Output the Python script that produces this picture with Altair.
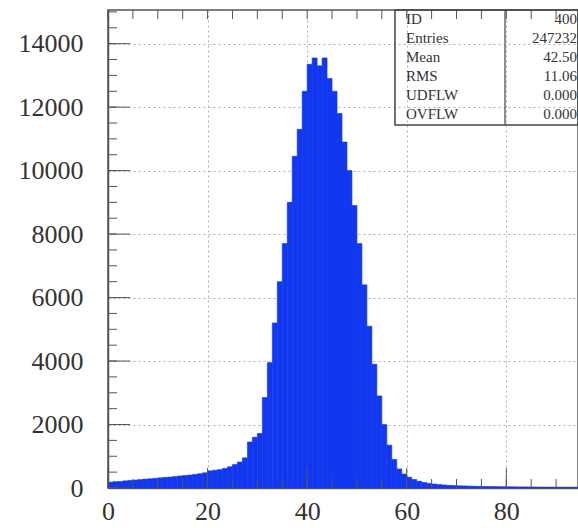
import altair as alt
import pandas as pd

# ---- data (bins of width 1, starting at 0) ----
bin_start = list(range(0, 95))
counts = [185, 200, 205, 225, 240, 250, 265, 280, 290, 305,
          320, 335, 345, 360, 380, 395, 410, 430, 450, 480,
          540, 560, 580, 620, 670, 740, 820, 950, 1450, 1600,
          1720, 2850, 3950, 5200, 6500, 7700, 9000, 10450, 11300, 12500,
          13350, 13550, 13300, 13550, 12900, 12500, 11800, 10900, 10000, 8900,
          7700, 6400, 5100, 3900, 2900, 2000, 1350, 900, 600, 440,
          340, 270, 215, 175, 145, 125, 110, 95, 85, 78,
          70, 66, 60, 56, 52, 50, 47, 45, 42, 40,
          39, 37, 35, 34, 33, 31, 30, 29, 28, 27,
          26, 25, 25, 24, 23]

x_labels = [0, 20, 40, 60, 80]
y_labels = [0, 2000, 4000, 6000, 8000, 10000, 12000, 14000]

stat_names = ["ID", "Entries", "Mean", "RMS", "UDFLW", "OVFLW"]
stat_values = ["400", "247232", "42.50", "11.06", "0.000", "0.000"]

X_MAX = 94.4
Y_MAX = 15060
W, H = 470, 478
FONT = "Liberation Serif"
BLUE = "#1238ef"
FRAME = "#555555"

hist = pd.DataFrame({"lo": bin_start, "hi": [b + 1 for b in bin_start], "n": counts})

xs = alt.Scale(domain=[0, X_MAX], nice=False, zero=False)
ys = alt.Scale(domain=[0, Y_MAX], nice=False)

bars = alt.Chart(hist).mark_rect(color=BLUE, stroke=BLUE, strokeWidth=0.6, clip=True).encode(
    x=alt.X("lo:Q", scale=xs,
            axis=alt.Axis(values=x_labels, title=None, grid=True, ticks=False,
                          labelPadding=10, domain=True, format="d")),
    x2="hi:Q",
    y=alt.Y("n:Q", scale=ys,
            axis=alt.Axis(values=y_labels, title=None, grid=True, ticks=False,
                          labelPadding=25, domain=True, format="d")),
    y2=alt.datum(0),
)

# inward tick marks (minor + major)
ymin = pd.DataFrame({"v": [v for v in range(0, 15001, 500)]})
ymaj = pd.DataFrame({"v": y_labels})
xmin = pd.DataFrame({"v": [v for v in range(0, 95, 5)]})
xmaj = pd.DataFrame({"v": x_labels})

y_minor = alt.Chart(ymin).mark_rule(color=FRAME, strokeWidth=1).encode(
    y=alt.Y("v:Q", scale=ys), x=alt.value(0), x2=alt.value(9))
y_major = alt.Chart(ymaj).mark_rule(color=FRAME, strokeWidth=1).encode(
    y=alt.Y("v:Q", scale=ys), x=alt.value(0), x2=alt.value(22))
x_minor_b = alt.Chart(xmin).mark_rule(color=FRAME, strokeWidth=1).encode(
    x=alt.X("v:Q", scale=xs), y=alt.value(H), y2=alt.value(H - 9))
x_major_b = alt.Chart(xmaj).mark_rule(color=FRAME, strokeWidth=1).encode(
    x=alt.X("v:Q", scale=xs), y=alt.value(H), y2=alt.value(H - 20))
x_minor_t = alt.Chart(xmin).mark_rule(color=FRAME, strokeWidth=1).encode(
    x=alt.X("v:Q", scale=xs), y=alt.value(0), y2=alt.value(9))

# statistics box
box = alt.Chart(pd.DataFrame({"a": [0]})).mark_rect(
    fillOpacity=0, stroke="#444444", strokeWidth=1.5).encode(
    x=alt.value(287), x2=alt.value(W), y=alt.value(0), y2=alt.value(115))
divider = alt.Chart(pd.DataFrame({"a": [0]})).mark_rule(
    color="#444444", strokeWidth=1.2).encode(
    x=alt.value(397), y=alt.value(0), y2=alt.value(115))

stats = pd.DataFrame({"row": list(range(len(stat_names))),
                      "name": stat_names, "val": stat_values})
stat_base = alt.Chart(stats).transform_calculate(py="9 + datum.row * 19")
stat_name_txt = stat_base.mark_text(
    align="left", baseline="middle", font=FONT, fontSize=15, color="#333333").encode(
    x=alt.value(298), y=alt.Y("py:Q", scale=None), text="name:N")
stat_val_txt = stat_base.mark_text(
    align="right", baseline="middle", font=FONT, fontSize=15, color="#333333").encode(
    x=alt.value(W - 1), y=alt.Y("py:Q", scale=None), text="val:N")

chart = alt.layer(
    bars, y_minor, y_major, x_minor_b, x_major_b, x_minor_t,
    box, divider, stat_name_txt, stat_val_txt
).properties(
    width=W, height=H,
    padding={"left": 108, "top": 10, "right": 0, "bottom": 40},
    autosize=alt.AutoSizeParams(type="none"),
    background="white",
).configure_view(
    stroke=FRAME, strokeWidth=1.5
).configure_axis(
    labelFont=FONT, labelFontSize=26, labelColor="#333333",
    domainColor=FRAME, domainWidth=1.5,
    gridColor="#b0b0b0", gridDash=[2, 3], gridWidth=1,
    labelFlush=False, labelOverlap=False,
)

chart.save("out.html", embed_options={"renderer": "svg", "actions": False})
